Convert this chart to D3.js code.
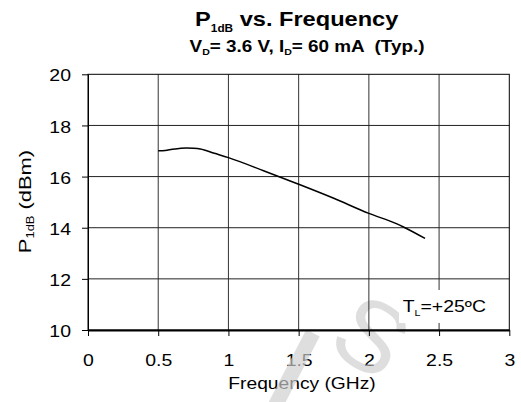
<!DOCTYPE html>
<html>
<head>
<meta charset="utf-8">
<script src="https://cdn.jsdelivr.net/npm/d3@7"></script>
<style>
  body { margin: 0; background: #fff; }
  svg { display: block; font-family: "Liberation Sans", Arial, sans-serif; }
</style>
</head>
<body>
<div id="chart"></div>
<script>
// P1dB vs. frequency
const freqGHz = [0.5, 0.55, 0.6, 0.65, 0.7, 0.75, 0.8, 0.9, 1.0, 1.25, 1.5, 1.75, 2.0, 2.2, 2.25, 2.4];
const p1dB    = [17.01, 17.02, 17.07, 17.10, 17.12, 17.11, 17.08, 16.91, 16.74, 16.23, 15.70, 15.15, 14.56, 14.15, 14.02, 13.58];
const xTicks = [0, 0.5, 1, 1.5, 2, 2.5, 3];
const yTicks = [10, 12, 14, 16, 18, 20];
const xTickLabels = ['0', '0.5', '1', '1.5', '2', '2.5', '3'];

const width = 521;
const height = 402;
const sx = 1.18; // text in the reference is a bit wide

const svg = d3.select('#chart')
  .append('svg')
  .attr('width', width)
  .attr('height', height);

const x = d3.scaleLinear().domain([0, 3]).range([88, 509.3]);
const y = d3.scaleLinear().domain([10, 20]).range([330, 74.3]);

// Title
const title = svg.append('text')
  .attr('transform', `translate(296.7,26) scale(${sx},1)`)
  .attr('text-anchor', 'middle')
  .attr('font-weight', 'bold')
  .attr('font-size', '20px')
  .attr('fill', '#000');
title.append('tspan').text('P');
title.append('tspan').attr('font-size', '10px').attr('dy', 5.5).text('1dB');
title.append('tspan').attr('dy', -5.5).text(' vs. Frequency');

// Subtitle
const sub = svg.append('text')
  .attr('transform', `translate(307,51.7) scale(${sx},1)`)
  .attr('text-anchor', 'middle')
  .attr('font-weight', 'bold')
  .attr('font-size', '16px')
  .style('white-space', 'pre')
  .attr('fill', '#000');
sub.append('tspan').text('V');
sub.append('tspan').attr('font-size', '9px').attr('dy', 3).text('D');
sub.append('tspan').attr('dy', -3).text('= 3.6 V, I');
sub.append('tspan').attr('font-size', '9px').attr('dy', 3).text('D');
sub.append('tspan').attr('dy', -3).text('= 60 mA  (Typ.)');

// Tick labels (drawn first, the watermark sits over them)
const xLab = svg.append('g')
  .attr('transform', `translate(0,${y(10)})`)
  .call(d3.axisBottom(x).tickValues(xTicks).tickSize(0)
    .tickFormat((d, i) => xTickLabels[i]));
xLab.select('.domain').remove();
xLab.selectAll('text')
  .attr('y', 36)
  .attr('dy', 0)
  .attr('font-size', '16.5px')
  .attr('font-family', '"Liberation Sans", Arial, sans-serif')
  .attr('fill', '#000')
  .attr('transform', `scale(${sx},1)`);

const yLab = svg.append('g')
  .attr('transform', `translate(${x(0)},0)`)
  .call(d3.axisLeft(y).tickValues(yTicks).tickSize(0).tickFormat(d3.format('d')));
yLab.select('.domain').remove();
yLab.selectAll('text')
  .attr('x', -17 / sx)
  .attr('dy', '0.4em')
  .attr('font-size', '16.5px')
  .attr('font-family', '"Liberation Sans", Arial, sans-serif')
  .attr('fill', '#000')
  .attr('transform', `scale(${sx},1)`);

// Axis titles
svg.append('text')
  .attr('transform', `translate(302,389.3) scale(${sx},1)`)
  .attr('text-anchor', 'middle')
  .attr('font-size', '16.3px')
  .attr('fill', '#000')
  .text('Frequency (GHz)');

const yTitle = svg.append('text')
  .attr('transform', `translate(30.5,201.5) rotate(-90) scale(1.29,1)`)
  .attr('text-anchor', 'middle')
  .attr('font-size', '17px')
  .attr('fill', '#000');
yTitle.append('tspan').text('P');
yTitle.append('tspan').attr('font-size', '10px').attr('dy', 3.5).text('1dB');
yTitle.append('tspan').attr('dy', -3.5).text(' (dBm)');

// Faint watermark over the lower labels
const wm = svg.append('g')
  .attr('opacity', 0.68);
wm.append('line')
  .attr('x1', 313).attr('y1', 333)
  .attr('x2', 272).attr('y2', 412)
  .attr('stroke', '#cfcfcf')
  .attr('stroke-width', 15);
wm.append('text')
  .attr('transform', 'translate(372,335) rotate(32)')
  .attr('text-anchor', 'middle')
  .attr('dy', '0.36em')
  .attr('font-size', '100px')
  .attr('fill', '#cfcfcf')
  .text('S');

// Grid
svg.append('g')
  .selectAll('line')
  .data(xTicks.slice(1, -1))
  .join('line')
  .attr('x1', d => x(d)).attr('x2', d => x(d))
  .attr('y1', y(20)).attr('y2', y(10))
  .attr('stroke', '#333')
  .attr('stroke-width', 1);

svg.append('g')
  .selectAll('line')
  .data(yTicks.slice(1, -1))
  .join('line')
  .attr('x1', x(0)).attr('x2', x(3))
  .attr('y1', d => y(d)).attr('y2', d => y(d))
  .attr('stroke', '#222')
  .attr('stroke-width', 1);

// Frame
svg.append('rect')
  .attr('x', x(0)).attr('y', y(20))
  .attr('width', x(3) - x(0)).attr('height', y(10) - y(20))
  .attr('fill', 'none')
  .attr('stroke', '#000')
  .attr('stroke-width', 1);

// Tick marks
const xAxis = svg.append('g')
  .attr('transform', `translate(0,${y(10)})`)
  .call(d3.axisBottom(x).tickValues(xTicks).tickSize(6).tickSizeOuter(0).tickFormat(''));
xAxis.select('.domain').attr('stroke-width', 1.8);
xAxis.selectAll('.tick line').attr('stroke', '#000');

const yAxis = svg.append('g')
  .attr('transform', `translate(${x(0)},0)`)
  .call(d3.axisLeft(y).tickValues(yTicks).tickSize(6).tickSizeOuter(0).tickFormat(''));
yAxis.selectAll('.tick line').attr('stroke', '#000');

// Curve
const pts = freqGHz.map((f, i) => [f, p1dB[i]]);
svg.append('path')
  .datum(pts)
  .attr('fill', 'none')
  .attr('stroke', '#000')
  .attr('stroke-width', 1.5)
  .attr('d', d3.line()
    .x(d => x(d[0]))
    .y(d => y(d[1]))
    .curve(d3.curveMonotoneX));

// Temperature note on a white patch
svg.append('rect')
  .attr('x', 399).attr('y', 290)
  .attr('width', 92).attr('height', 33)
  .attr('fill', '#fff');

const note = svg.append('text')
  .attr('transform', `translate(402.7,311.7) scale(${sx},1)`)
  .attr('font-size', '16.5px')
  .attr('fill', '#000');
note.append('tspan').text('T');
note.append('tspan').attr('font-size', '9px').attr('dy', 4).text('L');
note.append('tspan').attr('dy', -4).text('=+25ºC');
</script>
</body>
</html>
